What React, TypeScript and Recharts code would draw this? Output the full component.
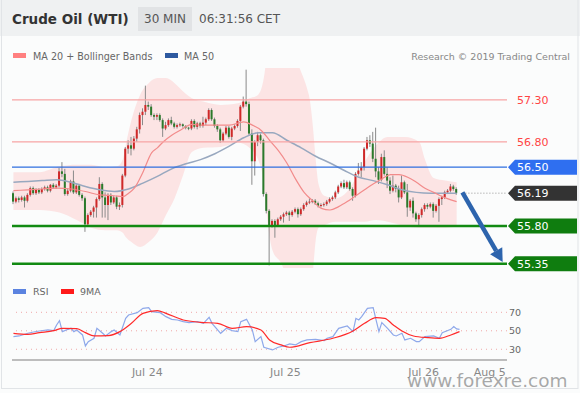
import React from "react";
import { Area, Bar, ComposedChart, Line, ReferenceLine, XAxis, YAxis } from "recharts";

// 30 min candles, Jul 23 -> Jul 26 06:00 (index = candle number)
const open = [
  56.19, 56.09, 56.13, 56.11, 56.14, 56.10, 56.17, 56.25, 56.19, 56.23,
  56.20, 56.24, 56.26, 56.22, 56.29, 56.26, 56.28, 56.45, 56.42, 56.18,
  56.22, 56.33, 56.20, 56.28, 56.17, 56.13, 55.82, 55.93, 55.97, 56.02,
  56.12, 56.30, 56.14, 56.05, 56.17, 56.08, 56.14, 56.03, 56.05, 56.40,
  56.72, 56.76, 56.72, 56.84, 56.95, 57.12, 57.16, 57.24, 57.22, 57.12,
  57.10, 57.12, 57.06, 56.96, 57.00, 57.06, 57.02, 56.98, 57.00, 57.01,
  56.99, 56.97, 56.96, 57.05, 56.98, 57.02, 56.99, 57.03, 57.07, 57.18,
  57.07, 56.99, 56.95, 56.82, 56.90, 56.97, 56.86, 56.96, 56.99, 57.05,
  57.22, 57.28, 57.25, 56.90, 56.57, 56.80, 56.88, 56.82, 56.18, 55.98,
  55.80, 55.86, 55.81, 55.88, 55.91, 55.94, 55.96, 55.93, 55.97, 56.00,
  55.94, 56.00, 56.05, 56.08, 56.09, 56.10, 56.07, 56.04, 56.05, 56.06,
  56.09, 56.12, 56.14, 56.20, 56.27, 56.31, 56.26, 56.32, 56.24, 56.16,
  56.42, 56.46, 56.50, 56.72, 56.82, 56.78, 56.60, 56.45, 56.35, 56.62,
  56.42, 56.34, 56.22, 56.28, 56.24, 56.14, 56.32, 56.20, 56.02, 56.10,
  55.95, 55.88, 55.93, 56.00, 56.05, 56.03, 56.06, 55.98, 56.04, 56.12,
  56.14, 56.20, 56.22, 56.27, 56.24,
];
const high = [
  56.21, 56.15, 56.15, 56.16, 56.16, 56.19, 56.27, 56.27, 56.25, 56.25,
  56.26, 56.28, 56.28, 56.30, 56.31, 56.30, 56.49, 56.56, 56.48, 56.25,
  56.35, 56.46, 56.30, 56.30, 56.19, 56.15, 55.95, 55.99, 56.04, 56.14,
  56.38, 56.32, 56.20, 56.19, 56.19, 56.16, 56.16, 56.08, 56.42, 56.74,
  56.82, 56.86, 56.87, 56.98, 57.15, 57.20, 57.47, 57.28, 57.25, 57.14,
  57.14, 57.14, 57.08, 57.04, 57.08, 57.10, 57.04, 57.02, 57.03, 57.02,
  57.00, 56.98, 57.07, 57.07, 57.04, 57.04, 57.10, 57.09, 57.20, 57.20,
  57.09, 57.01, 56.97, 56.92, 56.99, 56.99, 56.98, 57.01, 57.07, 57.24,
  57.34, 57.66, 57.28, 56.95, 56.82, 56.92, 56.90, 56.84, 56.20, 56.00,
  55.88, 55.88, 55.90, 55.93, 55.96, 55.98, 55.98, 55.99, 56.02, 56.02,
  56.02, 56.07, 56.10, 56.13, 56.12, 56.12, 56.09, 56.07, 56.08, 56.11,
  56.14, 56.16, 56.22, 56.29, 56.33, 56.35, 56.34, 56.34, 56.26, 56.44,
  56.55, 56.56, 56.74, 56.86, 56.88, 56.92, 56.97, 56.50, 56.66, 56.70,
  56.50, 56.38, 56.40, 56.30, 56.28, 56.40, 56.34, 56.30, 56.12, 56.14,
  55.97, 55.95, 56.02, 56.07, 56.07, 56.08, 56.08, 56.06, 56.14, 56.16,
  56.22, 56.24, 56.30, 56.29, 56.26,
];
const low = [
  56.06, 56.07, 56.08, 56.09, 56.02, 56.08, 56.15, 56.17, 56.17, 56.18,
  56.18, 56.22, 56.20, 56.20, 56.24, 56.24, 56.26, 56.38, 56.16, 56.16,
  56.20, 56.18, 56.18, 56.15, 56.10, 55.73, 55.80, 55.91, 55.90, 55.90,
  56.10, 55.90, 55.90, 55.87, 56.05, 56.06, 56.00, 55.99, 56.02, 56.38,
  56.66, 56.64, 56.70, 56.80, 56.90, 57.00, 57.12, 57.18, 57.10, 57.06,
  57.06, 57.04, 56.86, 56.94, 56.98, 57.00, 56.96, 56.96, 56.98, 56.97,
  56.95, 56.94, 56.94, 56.96, 56.95, 56.97, 56.97, 57.00, 57.05, 57.05,
  56.97, 56.92, 56.79, 56.80, 56.88, 56.84, 56.82, 56.94, 56.97, 56.93,
  57.20, 57.22, 56.88, 56.29, 56.40, 56.75, 56.78, 56.15, 55.95, 55.33,
  55.78, 55.66, 55.79, 55.86, 55.84, 55.92, 55.86, 55.91, 55.95, 55.90,
  55.92, 55.98, 56.03, 56.06, 56.07, 56.05, 56.02, 56.02, 56.03, 56.04,
  56.07, 56.10, 56.12, 56.18, 56.25, 56.24, 56.24, 56.22, 56.10, 56.14,
  56.40, 56.38, 56.46, 56.70, 56.74, 56.56, 56.38, 56.30, 56.33, 56.40,
  56.25, 56.18, 56.20, 56.20, 56.08, 56.12, 56.18, 55.91, 55.98, 55.90,
  55.85, 55.79, 55.90, 55.97, 56.00, 56.01, 55.90, 55.96, 55.85, 56.05,
  56.12, 56.18, 56.20, 56.22, 56.17,
];
const close = [
  56.09, 56.13, 56.11, 56.14, 56.10, 56.17, 56.25, 56.19, 56.23, 56.20,
  56.24, 56.26, 56.22, 56.29, 56.26, 56.28, 56.45, 56.42, 56.18, 56.22,
  56.33, 56.20, 56.28, 56.17, 56.13, 55.82, 55.93, 55.97, 56.02, 56.12,
  56.30, 56.14, 56.05, 56.17, 56.08, 56.14, 56.03, 56.05, 56.40, 56.72,
  56.76, 56.72, 56.84, 56.95, 57.12, 57.16, 57.24, 57.22, 57.12, 57.10,
  57.12, 57.06, 56.96, 57.00, 57.06, 57.02, 56.98, 57.00, 57.01, 56.99,
  56.97, 56.96, 57.05, 56.98, 57.02, 56.99, 57.03, 57.07, 57.18, 57.07,
  56.99, 56.95, 56.82, 56.90, 56.97, 56.86, 56.96, 56.99, 57.05, 57.22,
  57.28, 57.25, 56.90, 56.57, 56.80, 56.88, 56.82, 56.18, 55.98, 55.80,
  55.86, 55.81, 55.88, 55.91, 55.94, 55.96, 55.93, 55.97, 56.00, 55.94,
  56.00, 56.05, 56.08, 56.09, 56.10, 56.07, 56.04, 56.05, 56.06, 56.09,
  56.12, 56.14, 56.20, 56.27, 56.31, 56.26, 56.32, 56.24, 56.16, 56.42,
  56.46, 56.50, 56.72, 56.82, 56.78, 56.60, 56.45, 56.35, 56.62, 56.42,
  56.34, 56.22, 56.28, 56.24, 56.14, 56.32, 56.20, 56.02, 56.10, 55.95,
  55.88, 55.93, 56.00, 56.05, 56.03, 56.06, 55.98, 56.04, 56.12, 56.14,
  56.20, 56.22, 56.27, 56.24, 56.19,
];

// [candle index, value]
const ma20 = [
  [0, 56.22], [5, 56.23], [10, 56.24], [15, 56.25], [20, 56.24], [25, 56.21], [30, 56.17],
  [35, 56.16], [38, 56.15], [40, 56.19], [42, 56.25], [45, 56.44], [48, 56.67], [50, 56.73],
  [52, 56.8], [55, 56.88], [58, 56.94], [62, 57.01], [65, 57.0], [70, 57.0], [75, 57.0],
  [80, 57.04], [83, 57.0], [86, 56.94], [89, 56.82], [92, 56.7], [95, 56.55], [98, 56.36],
  [101, 56.2], [104, 56.1], [107, 56.01], [110, 55.99], [113, 56.03], [116, 56.09],
  [119, 56.16], [122, 56.23], [125, 56.3], [128, 56.36], [131, 56.41], [134, 56.41],
  [137, 56.38], [140, 56.32], [143, 56.25], [146, 56.2], [149, 56.15], [152, 56.11], [154, 56.09],
];
const ma50 = [
  [0, 56.32], [5, 56.33], [10, 56.34], [15, 56.35], [20, 56.32], [25, 56.27], [30, 56.23],
  [35, 56.21], [40, 56.24], [45, 56.31], [50, 56.39], [55, 56.48], [60, 56.54], [65, 56.59],
  [70, 56.66], [75, 56.75], [80, 56.85], [85, 56.91], [90, 56.91], [95, 56.82], [100, 56.73],
  [105, 56.63], [110, 56.55], [115, 56.46], [120, 56.38], [125, 56.34], [130, 56.29],
  [135, 56.23], [140, 56.2], [145, 56.19], [150, 56.19], [154, 56.19],
];
const bollIndex = [
  0, 9, 16, 22, 27, 32, 36, 38, 39, 41, 44, 47, 50, 53, 56, 59, 62, 66, 72, 78, 82, 85, 87, 88,
  90, 93, 97, 100, 102, 103, 104, 105, 106, 108, 112, 116, 119, 122, 126, 130, 136, 141, 143,
  146, 150, 154,
];
const bollUpper = [
  56.44, 56.44, 56.51, 56.53, 56.53, 56.5, 56.51, 56.59, 56.76, 57.06, 57.36, 57.5, 57.56,
  57.56, 57.5, 57.4, 57.32, 57.28, 57.24, 57.26, 57.32, 57.36, 57.56, 57.8, 58.05, 57.96,
  57.85, 57.63, 57.44, 57.3, 57.0, 56.6, 56.3, 56.16, 56.13, 56.21, 56.37, 56.56, 56.76,
  56.86, 56.86, 56.8, 56.59, 56.37, 56.34, 56.32,
];
const bollLower = [
  55.99, 55.99, 55.96, 55.87, 55.78, 55.75, 55.75, 55.72, 55.67, 55.61, 55.55, 55.61, 55.72,
  55.93, 56.13, 56.41, 56.68, 56.73, 56.74, 56.79, 56.73, 56.59, 56.3, 55.94, 55.51, 55.36,
  55.0, 54.87, 54.86, 54.95, 55.24, 55.62, 55.78, 55.81, 55.85, 55.85, 55.85, 55.85, 55.87,
  55.85, 55.8, 55.78, 55.78, 55.78, 55.78, 55.79,
];

const rsi = [
  [0, 43.7], [2, 44.4], [5, 47.3], [7, 48.7], [9, 49.8], [12, 50.9], [14, 50.2], [15, 56.3],
  [16, 61.0], [17, 49.1], [19, 51.6], [20, 52.7], [21, 49.1], [22, 50.9], [24, 45.5], [25, 33.6],
  [26, 38.3], [28, 41.9], [29, 52.7], [31, 47.3], [32, 44.4], [34, 49.1], [35, 50.9], [37, 45.5],
  [39, 63.5], [40, 67.1], [43, 69.6], [45, 74.3], [47, 75.0], [48, 70.7], [51, 69.6], [53, 65.3],
  [55, 62.4], [57, 61.7], [59, 59.9], [61, 58.8], [64, 59.9], [66, 58.1], [68, 64.6], [69, 58.1],
  [72, 47.3], [74, 52.7], [76, 50.2], [78, 49.1], [79, 59.9], [81, 62.4], [83, 50.9], [84, 38.3],
  [86, 43.7], [87, 32.2], [90, 29.3], [92, 32.2], [94, 33.6], [96, 35.8], [98, 34.7], [100, 38.3],
  [102, 40.1], [105, 40.8], [108, 39.4], [109, 41.9], [111, 43.7], [113, 52.7], [116, 55.2],
  [118, 49.1], [119, 63.5], [120, 61.7], [121, 65.3], [123, 74.3], [125, 75.0], [126, 61.7],
  [127, 49.1], [128, 58.8], [130, 52.7], [132, 45.5], [133, 44.4], [135, 47.3], [136, 40.1],
  [138, 41.9], [140, 38.3], [141, 38.3], [143, 43.7], [146, 44.4], [148, 41.9], [149, 48.0],
  [152, 51.6], [153, 54.5], [154, 52.0], [155, 51.6],
];
const rsi9ma = [
  [0, 47.3], [5, 46.2], [9, 48.0], [14, 50.2], [17, 52.7], [22, 52.3], [25, 48.0], [28, 44.4],
  [33, 44.8], [37, 49.1], [41, 58.1], [45, 68.9], [50, 71.8], [53, 68.9], [59, 61.7], [65, 59.2],
  [71, 58.1], [76, 52.7], [81, 54.5], [86, 50.9], [89, 40.1], [93, 34.7], [96, 32.2], [103, 37.2],
  [111, 41.9], [118, 49.8], [122, 58.1], [126, 64.2], [129, 63.5], [132, 56.3], [135, 49.8],
  [139, 44.4], [144, 42.6], [148, 41.9], [152, 45.5], [155, 49.1],
];

const tickIndex = [46.5, 94.5, 142.5, 165.5];
const tickLabels = ["Jul 24", "Jul 25", "Jul 26", "Aug 5"];

const resistances = [57.3, 56.8];
const pivot = 56.5;
const lastPrice = 56.19;
const supports = [55.8, 55.35];
const forecast = [
  [156, 56.2],
  [170, 55.37],
];

const candles = close.map((c, i) => ({ i, open: open[i], high: high[i], low: low[i], close: c }));
const pts = (arr: number[][]) => arr.map(([i, v]) => ({ i, v }));
const band = bollIndex.map((i, n) => ({ i, band: [bollLower[n], bollUpper[n]] }));

const FONT = "'DejaVu Sans', Verdana, sans-serif";
const X_DOMAIN: [number, number] = [-0.5, 171.5];

function Candle(props: any) {
  const { x, y, width, height, payload } = props;
  if (!payload || height == null) return null;
  const { open: o, close: c, high: h, low: l } = payload;
  const k = height / (h - l);
  const cx = x + width / 2;
  const top = y + (h - Math.max(o, c)) * k;
  const bot = y + (h - Math.min(o, c)) * k;
  return (
    <g>
      <line x1={cx} x2={cx} y1={y} y2={y + height} stroke="#8a8a8a" strokeWidth={1} />
      <rect x={x} y={top} width={width} height={Math.max(bot - top, 1)} fill={c >= o ? "#d02828" : "#2b7a2b"} />
    </g>
  );
}

function levelShape(label: string, stroke: string, sw: number, tag: string | null, text: string, dash?: string) {
  return (p: any) => {
    const y = p.y1;
    const xr = p.x2;
    return (
      <g>
        <line x1={p.x1} x2={xr} y1={y} y2={y} stroke={stroke} strokeWidth={sw} strokeDasharray={dash} />
        {tag && (
          <polygon
            points={`${xr + 1},${y} ${xr + 8},${y - 7.5} ${xr + 70},${y - 7.5} ${xr + 70},${y + 7.5} ${xr + 8},${y + 7.5}`}
            fill={tag}
          />
        )}
        <text x={xr + 10} y={y + 4} fill={text} fontSize={11}>
          {label}
        </text>
      </g>
    );
  };
}

function arrowShape(p: any) {
  const { x1, y1, x2, y2 } = p;
  const len = Math.hypot(x2 - x1, y2 - y1);
  const ux = (x2 - x1) / len;
  const uy = (y2 - y1) / len;
  const bx = x2 - ux * 13;
  const by = y2 - uy * 13;
  return (
    <g>
      <line x1={x1} y1={y1} x2={bx} y2={by} stroke="#2d64ad" strokeWidth={4.5} />
      <polygon points={`${x2},${y2} ${bx - uy * 7},${by + ux * 7} ${bx + uy * 7},${by - ux * 7}`} fill="#2d64ad" />
    </g>
  );
}

export default function App() {
  return (
    <div style={{ position: "absolute", left: 0, top: 0, width: 580, height: 393, overflow: "hidden", fontFamily: FONT }}>
      <svg width={580} height={393} style={{ position: "absolute", left: 0, top: 0 }}>
        <rect width={580} height={393} fill="#fbfcfc" />
        <rect width={580} height={36} fill="#eff1f2" />
        <text x={12} y={23.5} fontSize={13.5} fontWeight="bold" fill="#333">
          Crude Oil (WTI)
        </text>
        <rect x={138} y={7} width={54} height={24} fill="#e1e3e5" />
        <text x={144} y={23} fontSize={12} fill="#555">
          30 MIN
        </text>
        <text x={199} y={23} fontSize={12} fill="#555">
          06:31:56 CET
        </text>

        <rect x={13} y={53} width={13} height={5} fill="#ff8080" />
        <text x={33} y={59.5} fontSize={9.6} fill="#666">
          MA 20 + Bollinger Bands
        </text>
        <rect x={165} y={53} width={13} height={5} fill="#2e5aa0" />
        <text x={184} y={59.5} fontSize={9.6} fill="#666">
          MA 50
        </text>
        <text x={570} y={59.5} fontSize={9.5} fill="#888" textAnchor="end">
          Research © 2019 Trading Central
        </text>

        <rect x={13} y={289} width={13} height={5} fill="#5b83e0" />
        <text x={33} y={295} fontSize={9.5} fill="#666">
          RSI
        </text>
        <rect x={61} y={289} width={13} height={5} fill="#ff1a1a" />
        <text x={80} y={295} fontSize={9.5} fill="#666">
          9MA
        </text>
        <rect x={1.5} y={-1} width={576.5} height={389.5} fill="none" stroke="#e1e4e7" />
      </svg>

      <div style={{ position: "absolute", left: 0, top: 60 }}>
        <ComposedChart width={580} height={220} data={candles} margin={{ top: 8, right: 73, bottom: 12, left: 12 }}>
          <XAxis type="number" dataKey="i" domain={X_DOMAIN} hide allowDataOverflow />
          <YAxis type="number" domain={[55.3, 57.68]} hide allowDataOverflow />
          <Area data={band} dataKey="band" type="monotone" stroke="none" fill="#ff9a9a" fillOpacity={0.24} isAnimationActive={false} />
          <Line data={pts(ma50)} dataKey="v" type="monotone" stroke="#98a8bf" strokeWidth={1.5} dot={false} isAnimationActive={false} />
          <Line data={pts(ma20)} dataKey="v" type="monotone" stroke="#f28b8b" strokeWidth={1.2} dot={false} isAnimationActive={false} />
          {resistances.map((r) => (
            <ReferenceLine key={r} y={r} shape={levelShape(r.toFixed(2), "#f7a5a5", 1.3, null, "#ff4545")} />
          ))}
          <ReferenceLine y={pivot} shape={levelShape(pivot.toFixed(2), "#2f6fdf", 1.3, "#2f6ff0", "#fff")} />
          {supports.map((s) => (
            <ReferenceLine key={s} y={s} shape={levelShape(s.toFixed(2), "#128a12", 2.5, "#0f7d0f", "#fff")} />
          ))}
          <ReferenceLine
            segment={[
              { x: 156, y: lastPrice },
              { x: 171.5, y: lastPrice },
            ]}
            ifOverflow="visible"
            shape={levelShape(lastPrice.toFixed(2), "#b8b8b8", 1.5, "#333", "#fff", "1 2")}
          />
          <Bar dataKey={(d: any) => [d.low, d.high]} shape={Candle} barSize={2} isAnimationActive={false} />
          <ReferenceLine
            segment={[
              { x: forecast[0][0], y: forecast[0][1] },
              { x: forecast[1][0], y: forecast[1][1] },
            ]}
            ifOverflow="visible"
            shape={arrowShape}
          />
        </ComposedChart>
      </div>

      <div style={{ position: "absolute", left: 0, top: 290 }}>
        <ComposedChart width={580} height={101} data={pts(rsi)} margin={{ top: 9, right: 43, bottom: 0, left: 12 }}>
          <XAxis
            type="number"
            dataKey="i"
            domain={X_DOMAIN}
            allowDataOverflow
            ticks={tickIndex}
            interval={0}
            tickFormatter={(v: number) => tickLabels[tickIndex.indexOf(v)] ?? ""}
            tick={{ fill: "#888", fontSize: 11 }}
            tickLine={false}
            tickSize={6}
            tickMargin={2}
            axisLine={{ stroke: "#bdbdbd", strokeWidth: 2 }}
            height={31}
          />
          <YAxis
            orientation="right"
            type="number"
            domain={[18.4, 84.4]}
            ticks={[30, 50, 70]}
            allowDataOverflow
            tick={{ fill: "#666", fontSize: 9.5 }}
            tickLine={false}
            axisLine={false}
            tickSize={0}
            tickMargin={2}
            width={30}
          />
          {[70, 50, 30].map((g) => (
            <ReferenceLine key={g} y={g} stroke="#f0a8a8" strokeDasharray="1 4" />
          ))}
          <Line dataKey="v" type="linear" stroke="#8ea8ea" strokeWidth={1.2} dot={false} isAnimationActive={false} />
          <Line data={pts(rsi9ma)} dataKey="v" type="monotone" stroke="#ff2a2a" strokeWidth={1.2} dot={false} isAnimationActive={false} />
        </ComposedChart>
      </div>

      <svg width={580} height={393} style={{ position: "absolute", left: 0, top: 0, pointerEvents: "none" }}>
        <text x={407} y={386.5} fontSize={18.5} fill="#8c8c8c" fillOpacity={0.75}>
          www.forexre.com
        </text>
      </svg>
    </div>
  );
}
